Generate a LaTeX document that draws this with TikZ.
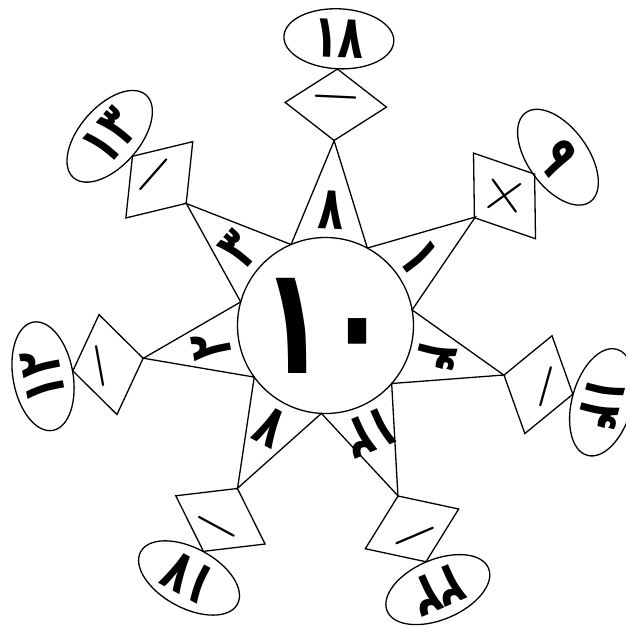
\documentclass[tikz,border=0pt]{standalone}
\usepackage{fontspec}
\usepackage{tikz}
\usetikzlibrary{shapes.geometric, positioning}
\newfontfamily\digitfont[Script=Arabic, FakeStretch=0.7]{DejaVu Sans}
\tikzset{
  % Hub and star
  hub/.style={circle, draw=black, line width=1.3pt, minimum size=176pt, inner sep=0pt, font=\digitfont\bfseries\fontsize{150}{150}\selectfont},
  spokenum/.style={inner sep=0pt, font=\digitfont\bfseries\fontsize{60}{60}\selectfont},
  % Operation and result
  opbox/.style={diamond, draw=black, line width=1.3pt, aspect=1.42, minimum width=102pt, minimum height=72pt, inner sep=0pt, font=\fontsize{66}{66}\selectfont},
  result/.style={ellipse, draw=black, line width=1.3pt, minimum width=110pt, minimum height=60pt, inner sep=0pt, font=\digitfont\bfseries\fontsize{60}{60}\selectfont},
}

\begin{document}
\begin{tikzpicture}[x=1pt, y=1pt, line width=1.3pt]
    \useasboundingbox (-325.5,-302.5) rectangle (299.5,325.5);

    % Star tips
    \coordinate (tip1) at (87.33:185);
    \coordinate (tip2) at (138.76:185);
    \coordinate (tip3) at (190.19:185);
    \coordinate (tip4) at (241.61:185);
    \coordinate (tip5) at (293.04:185);
    \coordinate (tip6) at (344.47:185);
    \coordinate (tip7) at (35.90:185);

    % Star bases on the hub
    \coordinate (base1) at (61.61:88);
    \coordinate (base2) at (113.04:88);
    \coordinate (base3) at (164.47:88);
    \coordinate (base4) at (215.90:88);
    \coordinate (base5) at (267.33:88);
    \coordinate (base6) at (318.76:88);
    \coordinate (base7) at (10.19:88);

    % Star
    \draw (base7) -- (tip7) -- (base1) -- (tip1) -- (base2) -- (tip2) -- (base3) -- (tip3)
      -- (base4) -- (tip4) -- (base5) -- (tip5) -- (base6) -- (tip6) -- cycle;

    % Hub
    \node[hub] (hub) at (0,0) {۱۰};

    % Numbers on the spokes
    \node[spokenum, rotate=-2.67] (num1) at (87.33:116) {۸};
    \node[spokenum, rotate=48.76] (num2) at (138.76:116) {۳};
    \node[spokenum, rotate=100.19] (num3) at (190.19:116) {۲};
    \node[spokenum, rotate=151.61] (num4) at (241.61:116) {۷};
    \node[spokenum, rotate=203.04] (num5) at (293.04:116) {۱۲};
    \node[spokenum, rotate=254.47] (num6) at (344.47:116) {۴};
    \node[spokenum, rotate=-54.10] (num7) at (35.90:116) {۱};

    % Operations
    \node[opbox, rotate=-2.67] (op1) at (87.33:221) {−};
    \node[opbox, rotate=48.76] (op2) at (138.76:221) {−};
    \node[opbox, rotate=100.19] (op3) at (190.19:221) {−};
    \node[opbox, rotate=151.61] (op4) at (241.61:221) {−};
    \node[opbox, rotate=203.04] (op5) at (293.04:221) {−};
    \node[opbox, rotate=254.47] (op6) at (344.47:221) {−};
    \node[opbox, rotate=-54.10] (op7) at (35.90:221) {+};

    % Results
    \node[result, rotate=-2.67] (res1) at (87.33:287) {۱۸};
    \node[result, rotate=48.76] (res2) at (138.76:287) {۱۳};
    \node[result, rotate=100.19] (res3) at (190.19:287) {۱۲};
    \node[result, rotate=151.61] (res4) at (241.61:287) {۱۷};
    \node[result, rotate=203.04] (res5) at (293.04:287) {۲۲};
    \node[result, rotate=254.47] (res6) at (344.47:287) {۱۴};
    \node[result, rotate=-54.10] (res7) at (35.90:287) {۹};
\end{tikzpicture}
\end{document}
